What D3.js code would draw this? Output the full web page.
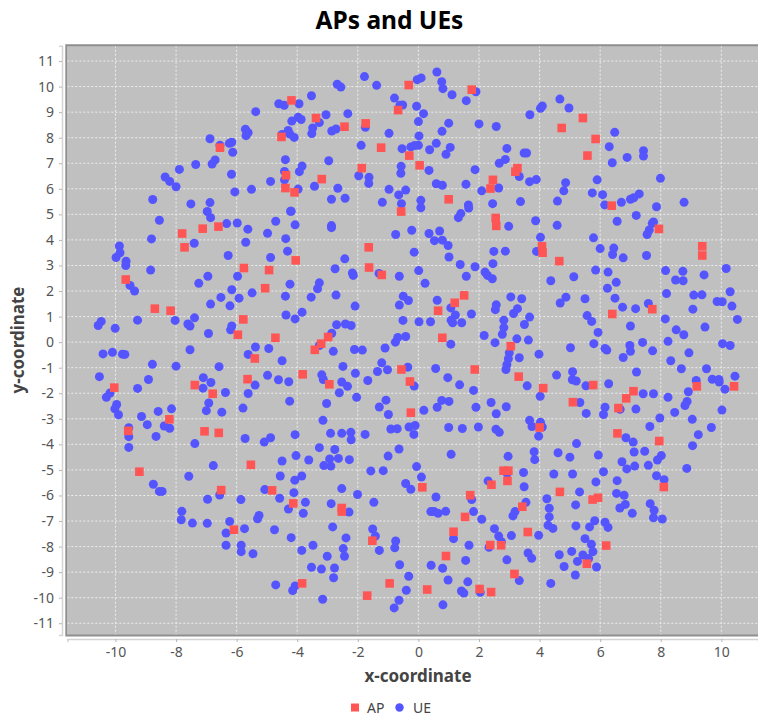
<!DOCTYPE html>
<html>
<head>
<meta charset="utf-8">
<script src="https://cdn.jsdelivr.net/npm/d3@7"></script>
<style>
  html, body { margin: 0; padding: 0; background: #fff; overflow: hidden; }
  text { font-family: "Noto Sans", sans-serif; }
</style>
</head>
<body>
<div id="chart"></div>
<script>
// values, [x, y]
const apPoints = [
[-4.19,9.46],[-4.52,8.03],[-6.55,7.61],[-4.37,6.53],[-4.39,6.03],[-4.09,5.86],[-7.80,4.25],[-7.12,4.44],[-6.60,4.52],[-7.72,3.71],
[-0.32,10.06],[1.76,9.88],[-0.67,9.08],[-3.38,8.77],[-2.44,8.43],[-1.74,8.56],[-1.23,7.61],[-0.30,7.30],[0.04,6.92],[-1.87,6.81],
[-3.19,6.38],[3.27,6.81],[3.20,6.67],[2.46,6.35],[2.38,6.01],[1.00,5.59],[-0.57,5.11],[2.55,4.86],[2.57,4.55],[-1.64,3.71],
[5.43,8.77],[4.73,8.38],[5.85,7.95],[5.58,7.30],[6.38,5.34],[7.94,4.43],[9.37,3.75],[4.08,3.75],[4.10,3.50],[9.37,3.39],[4.65,3.17],
[-5.76,2.90],[-4.93,2.82],[-9.66,2.45],[-5.06,2.11],[-8.70,1.31],[-8.18,1.23],[-5.78,0.89],[-5.96,0.29],[-4.72,0.17],[-5.40,-0.64],
[-5.64,-1.45],[-10.04,-1.78],[-7.38,-1.68],[-6.79,-2.02],[-8.22,-3.02],[-9.58,-3.47],[-7.06,-3.49],[-6.59,-3.55],
[-4.05,3.20],[-1.63,2.92],[-1.21,2.63],[1.51,1.83],[1.20,1.54],[0.65,1.23],[0.79,0.17],[3.05,-0.16],[-2.98,0.20],[-3.21,-0.06],
[-3.42,-0.30],[-3.82,-1.26],[-2.94,-1.65],[-0.56,-1.07],[-0.28,-1.54],[1.86,-1.07],[3.31,-1.35],[-0.25,-2.76],
[6.40,1.10],[7.72,1.29],[4.12,-1.80],[5.77,-1.68],[7.10,-1.92],[6.86,-2.20],[6.60,-2.58],[5.10,-2.35],[9.19,-1.73],[10.42,-1.73],
[4.00,-3.34],[6.57,-3.57],[7.95,-3.87],
[-9.21,-5.07],[-5.53,-4.80],[-6.51,-5.79],[-4.83,-5.80],[-6.09,-7.34],
[2.81,-5.03],[2.97,-5.03],[2.94,-5.43],[2.41,-5.58],[0.13,-5.68],[1.71,-5.99],[-4.13,-6.31],[-2.53,-6.49],[-2.53,-6.63],[3.43,-6.44],
[1.54,-6.84],[1.16,-7.42],[2.37,-7.94],[2.73,-7.95],[-1.52,-7.77],[0.91,-8.37],[3.17,-9.07],[-3.84,-9.44],[-0.95,-9.44],[0.29,-9.68],
[-1.69,-9.92],[2.02,-9.66],[2.40,-9.78],
[4.67,-5.86],[5.75,-6.16],[5.93,-6.09],[3.61,-7.43],[8.10,-5.67],[6.20,-7.96],[5.56,-8.67]
];

const uePoints = [
// top left
[-4.61,9.33],[-4.43,9.27],[-5.37,9.02],[-5.71,8.33],[-5.62,8.20],[-5.69,8.08],[-4.50,8.13],[-4.30,8.28],[-4.24,8.14],[-6.88,7.96],
[-6.55,7.70],[-6.24,7.78],[-6.16,7.82],[-6.13,7.43],[-4.39,7.14],[-6.71,7.13],[-6.81,6.97],[-7.35,6.95],[-7.89,6.76],[-8.36,6.46],
[-8.21,6.29],[-8.00,6.08],[-6.17,6.57],[-4.42,6.68],[-4.42,6.35],[-4.88,6.29],[-5.51,5.98],[-6.06,5.88],[-8.77,5.58],[-7.51,5.41],
[-6.88,5.46],[-6.97,5.11],[-6.86,4.87],[-8.55,4.77],[-6.33,4.64],[-5.98,4.66],[-5.63,4.42],[-4.71,4.73],[-4.22,5.12],[-4.98,4.26],
[-4.38,4.05],[-8.81,4.04],[-7.40,3.87],[-5.70,3.91],[-9.87,3.76],
// top middle
[-1.78,10.39],[-2.68,10.09],[-2.56,9.98],[-1.38,10.05],[-3.53,9.64],[-3.94,9.33],[-0.79,9.55],[-0.04,10.27],[0.09,10.34],[0.61,10.57],
[0.77,10.19],[0.81,9.92],[1.11,9.68],[1.58,9.45],[1.90,9.80],[-0.61,9.27],[-0.52,9.28],[-0.06,9.23],[0.17,8.94],[-3.05,8.90],
[-2.33,8.94],[-3.97,8.80],[-3.87,8.71],[-4.18,8.65],[-3.27,8.59],[-3.49,8.38],[-3.52,8.16],[-4.10,8.01],[-2.86,8.26],[-2.72,8.34],
[-1.75,8.41],[-0.97,8.17],[0.00,8.63],[1.00,8.57],[0.78,8.25],[0.02,8.07],[2.00,8.54],[2.57,8.44],[-1.89,7.70],[-0.54,7.57],
[-0.25,7.64],[-0.13,7.69],[0.00,7.70],[0.37,7.53],[0.59,7.78],[1.05,7.62],[0.91,7.35],[2.92,7.58],[3.49,7.40],[2.87,7.15],
[2.67,7.00],[-2.96,7.10],[-3.84,6.89],[-3.93,6.67],[-0.57,6.88],[-0.58,6.61],[0.35,6.72],[1.87,6.75],[-1.97,6.51],[-1.63,6.45],
[-1.64,6.21],[3.33,6.48],[-3.97,5.99],[-3.43,6.10],[-2.66,6.02],[-2.87,5.59],[-2.42,5.63],[-0.97,5.98],[-0.42,5.95],[-0.65,5.76],
[-1.19,5.47],[-0.56,5.42],[0.08,5.55],[0.08,5.26],[0.59,6.20],[0.79,6.14],[1.57,6.18],[2.09,5.92],[2.65,6.03],[2.45,5.42],
[3.37,5.50],[1.65,5.37],[1.66,5.25],[1.40,5.03],[1.32,4.87],[-4.20,5.12],[-4.07,4.59],[-2.87,4.56],[-2.87,4.48],[2.98,4.53],
[-0.75,4.21],[-0.22,4.38],[0.35,4.25],[0.70,4.35],[0.53,3.97],[0.79,3.99],[0.98,3.78],
// top right
[4.67,9.51],[4.09,9.24],[4.03,9.15],[4.97,9.16],[3.68,8.90],[6.48,8.21],[6.30,7.65],[3.57,7.40],[7.43,7.49],[7.43,7.28],
[6.89,7.23],[6.40,7.02],[7.99,6.41],[5.90,6.35],[4.86,6.24],[3.89,6.36],[3.67,6.28],[4.80,5.92],[5.74,5.84],[6.08,5.77],
[7.29,5.80],[7.11,5.65],[7.00,5.59],[6.70,5.47],[6.15,5.37],[7.86,5.30],[8.77,5.47],[4.59,5.52],[7.19,4.96],[3.87,4.75],
[4.58,4.57],[6.56,4.73],[7.76,4.70],[7.72,4.65],[7.62,4.39],[7.55,4.21],[4.03,4.10],[5.78,4.08],
// middle left
[-9.85,3.50],[-9.98,3.31],[-9.65,3.17],[-9.66,3.00],[-8.84,2.82],[-6.28,3.39],[-4.88,3.31],[-4.32,3.56],[-6.95,2.58],[-7.25,2.30],
[-5.97,2.58],[-6.16,2.05],[-5.49,1.93],[-4.24,2.27],[-4.39,1.80],[-9.52,2.22],[-9.37,2.00],[-6.52,1.75],[-5.92,1.72],[-6.86,1.49],
[-6.22,1.42],[-4.37,1.06],[-7.39,0.95],[-8.03,0.85],[-9.27,0.86],[-10.47,0.81],[-10.57,0.65],[-10.01,0.54],[-7.61,0.71],[-7.54,0.63],
[-6.16,0.63],[-6.20,0.48],[-6.93,0.34],[-5.38,-0.19],[-4.94,-0.25],[-5.62,-0.48],[-4.50,-0.73],[-7.54,-0.30],[-10.41,-0.46],[-10.10,-0.40],
[-9.77,-0.47],[-9.69,-0.48],[-8.78,-0.87],[-8.00,-0.94],[-6.58,-0.96],[-10.53,-1.35],[-8.91,-1.46],[-7.10,-1.39],[-6.85,-1.58],[-7.11,-1.80],
[-4.98,-1.30],[-4.62,-1.47],[-4.28,-1.55],[-5.39,-1.68],[-9.27,-1.81],[-10.18,-1.99],[-10.30,-2.16],[-5.62,-2.01],[-6.37,-1.97],[-4.25,-2.31],
[-9.96,-2.44],[-10.02,-2.61],[-9.90,-2.84],[-6.92,-2.38],[-7.00,-2.68],[-6.49,-2.74],[-5.79,-2.58],[-8.59,-2.71],[-8.15,-2.61],[-9.14,-2.91],
[-8.95,-3.23],[-8.39,-3.28],[-8.21,-3.37],[-9.56,-3.35],[-9.56,-3.70],[-8.66,-3.69],[-5.72,-3.77],[-5.09,-3.91],[-4.88,-3.74],
// center
[-0.14,3.52],[-2.43,3.26],[1.01,3.33],[2.49,3.55],[2.87,3.56],[2.46,3.07],[1.38,3.04],[1.87,2.95],[-2.75,2.87],[-2.18,2.71],
[-2.15,2.61],[-1.30,2.69],[-0.63,2.58],[0.01,2.80],[1.58,2.58],[2.20,2.74],[2.28,2.61],[2.44,2.48],[-3.27,2.32],[-3.33,2.09],
[0.22,2.30],[-3.54,1.76],[-2.72,1.84],[-2.09,1.41],[-0.50,1.80],[-0.33,1.63],[-0.63,1.45],[0.62,1.64],[1.07,1.34],[3.05,1.77],
[3.41,1.70],[2.57,1.46],[2.54,1.27],[-3.84,1.17],[-4.07,0.91],[1.75,1.10],[1.22,1.06],[3.27,1.31],[3.14,1.12],[1.08,0.86],
[1.13,0.76],[1.43,0.76],[0.40,0.80],[0.02,0.80],[-0.51,0.85],[2.82,0.86],[2.82,0.57],[2.77,0.31],[3.50,0.69],[-2.70,0.68],
[-2.41,0.71],[-2.22,0.65],[-2.86,0.35],[-0.42,0.22],[-0.68,0.18],[-0.76,0.00],[2.17,0.26],[1.07,-0.08],[2.53,-0.02],[3.25,0.13],
[-1.10,-0.23],[-2.11,-0.29],[-1.85,-0.31],[-2.81,-0.36],[-3.27,-0.13],[3.33,-0.61],[3.00,-0.42],[2.97,-0.65],[2.92,-0.88],[2.89,-1.07],
[-2.49,-0.95],[-1.21,-0.81],[-1.35,-1.15],[-1.02,-1.08],[-0.35,-0.98],[0.57,-1.03],[-2.08,-1.22],[-3.19,-1.28],[-3.14,-1.46],[-1.67,-1.50],
[-2.53,-1.56],[-2.34,-1.73],[-2.61,-1.98],[-2.04,-2.16],[-0.14,-1.72],[0.97,-1.39],[1.36,-1.67],[1.82,-1.89],[-3.03,-2.40],[-1.07,-2.27],
[-1.29,-2.54],[-0.99,-2.83],[0.77,-2.28],[1.01,-2.32],[0.62,-2.55],[0.18,-2.67],[2.40,-2.36],[1.90,-2.55],[2.90,-2.53],[2.57,-2.80],
[-3.15,-3.06],[-0.11,-3.26],[-0.31,-3.32],[-0.91,-3.40],[-0.70,-3.39],[1.00,-3.34],[1.45,-3.38],[1.98,-3.32],[2.56,-3.41],[2.67,-3.53],
[-4.07,-3.62],[-2.90,-3.57],[-2.53,-3.57],[-2.23,-3.53],[-1.76,-3.61],[-2.22,-3.82],[-0.15,-3.61],
// middle right
[3.90,3.55],[6.00,3.66],[6.45,3.68],[6.41,3.43],[6.76,3.30],[7.53,3.39],[5.85,2.82],[6.26,2.74],[4.37,2.40],[5.13,2.56],
[6.53,2.34],[6.24,2.11],[8.16,2.80],[8.73,2.77],[8.49,2.43],[8.74,2.40],[9.43,2.63],[10.16,2.88],[8.19,1.90],[9.09,1.84],
[9.36,1.85],[10.29,1.97],[9.86,1.59],[10.03,1.58],[10.35,1.41],[9.06,1.29],[4.87,1.76],[4.68,1.53],[5.50,1.70],[6.49,1.72],
[6.74,1.37],[7.17,1.31],[7.59,1.51],[10.53,0.89],[8.15,0.91],[5.57,1.04],[5.72,0.81],[3.67,0.98],[7.00,0.63],[5.93,0.38],
[9.46,0.59],[8.51,0.48],[8.76,0.29],[3.63,0.08],[5.02,-0.22],[5.79,-0.06],[6.16,-0.25],[6.22,-0.31],[6.98,-0.13],[7.00,-0.36],
[7.40,-0.01],[6.76,-0.60],[7.73,-0.34],[8.24,0.03],[10.04,-0.06],[10.29,-0.13],[8.93,-0.42],[3.98,-0.47],[8.33,-0.73],[8.68,-1.04],
[9.51,-1.04],[7.20,-1.17],[5.09,-1.16],[4.56,-1.29],[5.08,-1.47],[5.21,-1.52],[5.53,-1.71],[6.28,-1.63],[9.17,-1.50],[9.70,-1.45],
[9.92,-1.46],[9.93,-1.56],[10.45,-1.33],[10.12,-1.84],[3.59,-1.71],[4.02,-2.12],[7.42,-2.02],[7.76,-2.02],[8.24,-2.16],[8.91,-1.94],
[8.87,-2.32],[8.80,-2.48],[5.33,-2.36],[6.16,-2.55],[6.66,-2.63],[7.18,-2.62],[5.54,-2.79],[6.11,-2.83],[8.46,-2.75],[10.02,-2.66],
[7.97,-2.97],[9.04,-3.02],[3.67,-3.06],[4.03,-3.13],[3.75,-3.30],[4.09,-3.32],[7.64,-3.30],[9.67,-3.34],[9.24,-3.62],[3.97,-3.68],
[6.85,-3.74],[7.09,-3.91],
// bottom left
[-7.38,-3.97],[-9.56,-4.12],[-6.77,-4.83],[-7.58,-5.25],[-8.75,-5.56],[-8.55,-5.84],[-8.46,-5.84],[-4.50,-4.65],[-4.56,-5.24],[-5.07,-5.77],
[-4.58,-6.11],[-4.29,-6.53],[-6.56,-5.98],[-6.96,-6.15],[-5.86,-6.16],[-7.81,-6.62],[-7.83,-6.95],[-7.46,-7.08],[-6.97,-7.09],[-6.23,-7.02],
[-5.26,-6.78],[-5.31,-6.91],[-5.74,-7.30],[-4.75,-7.34],[-6.35,-7.47],[-4.20,-7.65],[-6.35,-7.95],[-5.85,-7.95],[-5.85,-8.20],[-5.46,-8.28],
[-4.71,-9.50],
// bottom middle
[-3.27,-4.13],[-2.76,-4.20],[-0.64,-4.18],[-4.04,-4.44],[-3.62,-4.61],[-2.93,-4.57],[-2.64,-4.55],[-2.28,-4.60],[-3.12,-4.83],[-2.89,-4.85],
[-1.00,-4.46],[1.08,-4.39],[2.96,-4.47],[-0.06,-4.87],[-1.57,-5.04],[-1.16,-5.03],[0.10,-5.28],[-3.85,-5.24],[-4.08,-5.40],[-0.42,-5.53],
[-0.25,-5.76],[2.30,-5.43],[2.93,-5.13],[3.47,-5.10],[3.49,-5.66],[-2.53,-5.73],[-2.01,-5.96],[-4.11,-5.89],[-3.73,-6.27],[-2.88,-6.32],
[-1.47,-6.27],[0.58,-6.06],[1.76,-6.16],[-3.80,-6.70],[-2.29,-6.65],[0.41,-6.63],[0.52,-6.63],[0.65,-6.70],[0.90,-6.62],[1.82,-6.63],
[2.09,-6.93],[3.19,-6.63],[3.12,-6.80],[-2.83,-7.23],[-1.51,-7.31],[-1.42,-7.59],[-2.39,-7.66],[-0.75,-7.78],[-0.78,-8.05],[-1.29,-8.15],
[1.16,-7.69],[1.67,-7.95],[2.51,-7.30],[2.65,-7.59],[2.74,-7.81],[3.07,-7.57],[2.33,-8.03],[-3.48,-7.95],[-3.85,-8.15],[-2.48,-8.08],
[-2.44,-8.38],[-3.01,-8.38],[2.92,-8.52],[1.56,-8.54],[-3.53,-8.81],[-3.20,-8.88],[-2.77,-8.84],[-0.62,-8.71],[0.42,-8.73],[0.80,-8.85],
[-2.80,-9.22],[-0.32,-9.16],[0.98,-9.31],[1.63,-9.38],[3.33,-9.33],[-4.07,-9.54],[-4.15,-9.72],[-0.40,-9.71],[1.42,-9.74],[1.50,-9.82],
[2.04,-9.79],[-3.16,-10.06],[-0.64,-10.10],[0.81,-10.28],[-0.80,-10.40],
// bottom right
[5.22,-3.97],[9.05,-4.05],[3.82,-4.29],[4.61,-4.33],[5.00,-4.50],[5.94,-4.42],[7.12,-4.30],[7.47,-4.27],[3.84,-4.60],[6.72,-4.68],
[7.14,-4.85],[6.88,-4.96],[7.59,-4.82],[8.02,-4.44],[7.89,-4.61],[8.86,-4.94],[4.47,-5.16],[5.09,-5.16],[6.11,-5.07],[7.86,-5.23],
[8.11,-5.38],[5.86,-5.47],[6.56,-5.42],[5.32,-5.86],[6.54,-5.92],[6.79,-5.99],[4.24,-6.13],[3.55,-6.27],[5.19,-6.37],[6.83,-6.35],
[6.65,-6.49],[7.65,-6.32],[7.78,-6.58],[7.06,-6.70],[4.32,-6.50],[4.32,-6.84],[7.76,-6.87],[8.05,-6.92],[5.82,-6.99],[6.16,-7.05],
[6.26,-7.25],[4.28,-7.17],[4.44,-7.29],[5.20,-7.19],[5.65,-7.23],[3.97,-7.56],[5.50,-7.69],[5.71,-7.91],[5.76,-8.20],[5.06,-8.19],
[3.62,-8.25],[3.74,-8.46],[4.65,-8.32],[5.43,-8.33],[5.62,-8.47],[5.25,-8.58],[4.81,-8.78],[5.88,-8.80],[5.18,-9.11],[4.37,-9.44]
];

const xTicks = [-10, -8, -6, -4, -2, 0, 2, 4, 6, 8, 10];
const yTicks = [-11, -10, -9, -8, -7, -6, -5, -4, -3, -2, -1, 0, 1, 2, 3, 4, 5, 6, 7, 8, 9, 10, 11];
const legendNames = ["AP", "UE"];

const width = 758, height = 717;
const plot = { left: 67.3, right: 758, top: 45.7, bottom: 635 };
const ueRadius = 4.5, apSize = 8.6;

const svg = d3.select("#chart").append("svg")
    .attr("width", width)
    .attr("height", height)
    .style("display", "block");

const x = d3.scaleLinear().domain([-11.59, 11.21]).range([plot.left, plot.right]);
const y = d3.scaleLinear().domain([-11.46, 11.6]).range([plot.bottom, plot.top]);

// plot background
svg.append("rect")
    .attr("x", plot.left)
    .attr("y", plot.top)
    .attr("width", plot.right - plot.left)
    .attr("height", plot.bottom - plot.top)
    .attr("fill", "#c0c0c0");

// grid
svg.append("g").selectAll("line").data(xTicks).join("line")
    .attr("x1", d => x(d)).attr("x2", d => x(d))
    .attr("y1", plot.top).attr("y2", plot.bottom)
    .attr("stroke", "#eeeeee").attr("stroke-dasharray", "2,2");
svg.append("g").selectAll("line").data(yTicks).join("line")
    .attr("x1", plot.left).attr("x2", plot.right)
    .attr("y1", d => y(d)).attr("y2", d => y(d))
    .attr("stroke", "#eeeeee").attr("stroke-dasharray", "2,2");

// plot outline (left, top, bottom only, the right side runs off the page)
svg.append("path")
    .attr("d", `M${plot.right},${plot.top - 0.5}H${plot.left - 1}V${plot.bottom + 0.5}H${plot.right}`)
    .attr("fill", "none")
    .attr("stroke", "#8f8f8f")
    .attr("stroke-width", 2);

// axes
const xAxis = svg.append("g")
    .attr("transform", "translate(0,639)")
    .call(d3.axisBottom(x).tickValues(xTicks).tickSize(3).tickPadding(5).tickFormat(d3.format("d")));
const yAxis = svg.append("g")
    .attr("transform", "translate(62,0)")
    .call(d3.axisLeft(y).tickValues(yTicks).tickSize(3).tickPadding(5).tickFormat(d3.format("d")));
[xAxis, yAxis].forEach(a => {
  a.selectAll(".domain").attr("stroke", "#d4d4d4").attr("stroke-width", 1.5);
  a.selectAll(".tick line").attr("stroke", "#b5b5b5");
  a.selectAll(".tick text")
      .attr("fill", "#555555")
      .style("font-size", "14px")
      .text(d => String(d).replace("\u2212", "-"));
});

// marks
svg.append("g").selectAll("circle").data(uePoints).join("circle")
    .attr("cx", d => x(d[0]))
    .attr("cy", d => y(d[1]))
    .attr("r", ueRadius)
    .attr("fill", "#5555ff");
svg.append("g").selectAll("rect").data(apPoints).join("rect")
    .attr("x", d => x(d[0]) - apSize / 2)
    .attr("y", d => y(d[1]) - apSize / 2)
    .attr("width", apSize)
    .attr("height", apSize)
    .attr("fill", "#ff5555");

// title and axis labels
svg.append("text")
    .attr("x", 389.5).attr("y", 29)
    .attr("text-anchor", "middle")
    .style("font-size", "24.5px").style("font-weight", "bold")
    .attr("fill", "#000")
    .text("APs and UEs");
svg.append("text")
    .attr("x", 418).attr("y", 682)
    .attr("text-anchor", "middle")
    .style("font-size", "17px").style("font-weight", "bold")
    .attr("fill", "#444")
    .text("x-coordinate");
svg.append("text")
    .attr("transform", "translate(24,340) rotate(-90)")
    .attr("text-anchor", "middle")
    .style("font-size", "17px").style("font-weight", "bold")
    .attr("fill", "#444")
    .text("y-coordinate");

// legend
svg.append("rect")
    .attr("x", 351).attr("y", 703.5)
    .attr("width", 8).attr("height", 8)
    .attr("fill", "#ff5555");
svg.append("circle")
    .attr("cx", 399.5).attr("cy", 707.5)
    .attr("r", 4.2)
    .attr("fill", "#5555ff");
svg.append("g").selectAll("text").data(legendNames).join("text")
    .attr("x", (d, i) => i == 0 ? 367 : 413)
    .attr("y", 712.5)
    .style("font-size", "14px")
    .attr("fill", "#444")
    .text(d => d);
</script>
</body>
</html>
